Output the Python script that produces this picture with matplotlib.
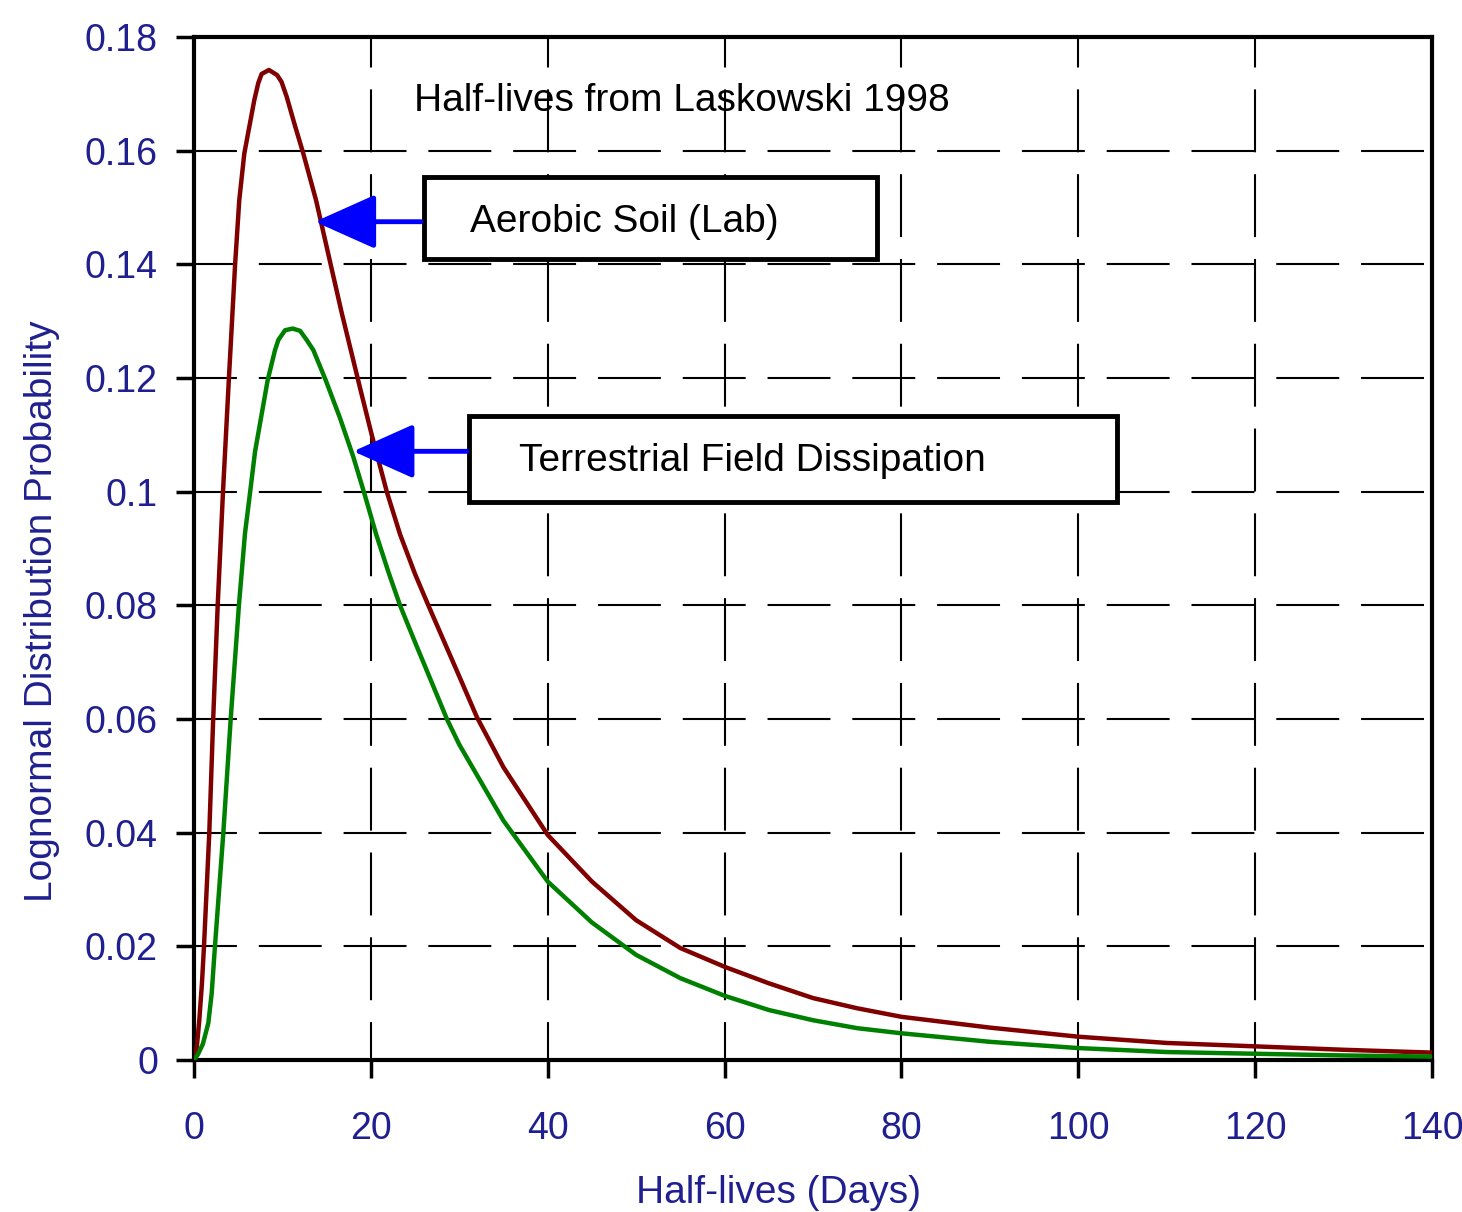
import matplotlib
matplotlib.use('Agg')
import matplotlib.pyplot as plt
from matplotlib.patches import Rectangle

# values (half-life in days, probability)
aerobic_x = [0, 0.3, 0.6, 0.9, 1.13, 1.73, 2.17, 2.68, 3.28, 3.95, 4.65, 5.12, 5.69,
             6.82, 7.27, 7.65, 8.48, 9.4, 9.9, 10.48, 11.4, 12.36, 13.8, 15.38, 16.7, 17.64,
             18.77, 20.1, 21.8, 23.3, 25, 26.5, 30, 32, 35, 40, 45, 50, 55, 60, 65, 70, 75,
             80, 90, 100, 110, 120, 130, 140]
aerobic_y = [0, 0.002, 0.007, 0.0135, 0.02, 0.04, 0.06, 0.08, 0.1, 0.12, 0.14, 0.1513, 0.1595,
             0.1689, 0.1719, 0.1735, 0.1742, 0.1733, 0.1721, 0.1695, 0.1645, 0.1595, 0.1513, 0.1405, 0.1315, 0.1255,
             0.1183, 0.11, 0.1, 0.0925, 0.0855, 0.08, 0.0675, 0.0603, 0.0515, 0.0396, 0.0314, 0.0246, 0.0197, 0.0164,
             0.0135, 0.0109, 0.0091, 0.0076, 0.0057, 0.0041, 0.003, 0.0024, 0.0018, 0.0013]

field_x = [0, 0.45, 1.0, 1.62, 2.0, 2.37, 3.32, 4.15, 5.08, 5.77, 6.33, 6.9, 8.33, 9.16, 9.54,
           10.3, 11.15, 12.0, 12.74, 13.5, 14.9, 16.5, 18.0, 19.3, 20.6, 22, 23.3, 25, 28.6, 30,
           35, 40, 45, 50, 55, 60, 65, 70, 75, 80, 90, 100, 110, 120, 130, 140]
field_y = [0, 0.001, 0.0028, 0.0065, 0.0117, 0.02, 0.04, 0.06, 0.08, 0.0927, 0.0997, 0.107, 0.1196, 0.1249, 0.1267,
           0.1284, 0.1287, 0.1283, 0.1267, 0.1249, 0.1196, 0.113, 0.1062, 0.0995, 0.0925, 0.0858, 0.08, 0.0735, 0.06, 0.0555,
           0.0421, 0.0314, 0.0242, 0.0185, 0.0144, 0.0113, 0.0088, 0.007, 0.0056, 0.0047, 0.0032, 0.0021, 0.0014, 0.0011,
           0.0008, 0.0006]

xticks = [0, 20, 40, 60, 80, 100, 120, 140]
yticks = [0, 0.02, 0.04, 0.06, 0.08, 0.1, 0.12, 0.14, 0.16, 0.18]
ytick_labels = ['0', '0.02', '0.04', '0.06', '0.08', '0.1', '0.12', '0.14', '0.16', '0.18']

navy = '#1f1f8f'
plt.rcParams['font.family'] = ['Liberation Sans', 'DejaVu Sans']

fig = plt.figure(figsize=(14.62, 12.12), dpi=100)
ax = fig.add_axes([0.13269, 0.12541, 0.84679, 0.84406])

ax.plot(aerobic_x, aerobic_y, color='#800000', lw=3.2, zorder=4)
ax.plot(field_x, field_y, color='#008000', lw=3.2, zorder=4)

ax.set_xlim(0, 140)
ax.set_ylim(0, 0.18)
ax.set_xticks(xticks)
ax.set_xticklabels([str(t) for t in xticks])
ax.set_yticks(yticks)
ax.set_yticklabels(ytick_labels)

ax.tick_params(axis='both', direction='out', length=13, width=2.5, colors='black',
               labelcolor=navy, labelsize=27)
ax.tick_params(axis='x', pad=24)
ax.tick_params(axis='y', pad=13)

for s in ax.spines.values():
    s.set_linewidth(3)
    s.set_color('black')

# dashed grid
ax.yaxis.grid(True, color='black', lw=1.5, linestyle=(9.6, (30.2, 10.5)))
ax.xaxis.grid(True, color='black', lw=1.5, linestyle=(12, (30.2, 10.5)))

ax.set_xlabel('Half-lives (Days)', fontsize=28, color=navy)
ax.xaxis.set_label_coords(0.472, -0.1124)
ax.set_ylabel('Lognormal Distribution Probability', fontsize=28, color=navy)
ax.yaxis.set_label_coords(-0.108, 0.439)

ax.text(24.88, 0.1669, 'Half-lives from Laskowski 1998', fontsize=28, color='black',
        va='baseline', ha='left', zorder=6)

# label boxes
ax.add_patch(Rectangle((26.01, 0.14094), 77.24 - 26.01, 0.15537 - 0.14094,
                       facecolor='white', edgecolor='black', lw=3.5, zorder=5))
ax.add_patch(Rectangle((31.15, 0.09818), 104.43 - 31.15, 0.11323 - 0.09818,
                       facecolor='white', edgecolor='black', lw=3.5, zorder=5))
ax.text(31.2, 0.14574, 'Aerobic Soil (Lab)', fontsize=28, color='black',
        va='baseline', ha='left', zorder=6)
ax.text(36.75, 0.10369, 'Terrestrial Field Dissipation', fontsize=28, color='black',
        va='baseline', ha='left', zorder=6)

# arrows pointing at the curves
arr = dict(arrowstyle='-|>,head_length=38,head_width=17', mutation_scale=1, lw=3.5,
           color='blue', shrinkA=0, shrinkB=0)
ax.annotate('', xy=(13.68, 0.1475), xytext=(25.67, 0.1475), arrowprops=arr, zorder=6)
ax.annotate('', xy=(18.01, 0.1071), xytext=(30.87, 0.1071), arrowprops=arr, zorder=6)

fig.savefig('out.png', dpi=100)
